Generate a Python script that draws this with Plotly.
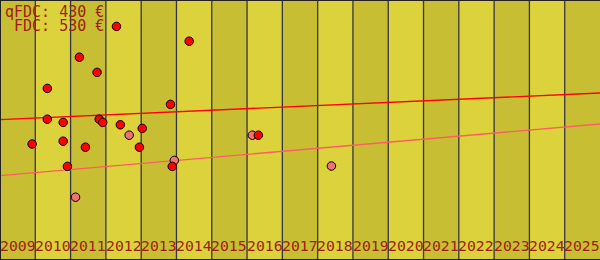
import plotly.graph_objects as go

# ---- data ----
years = list(range(2009, 2026))
red_dates = [2010.34, 2009.91, 2010.34, 2010.79, 2010.79, 2010.91, 2011.42, 2011.81,
             2011.91, 2012.41, 2013.03, 2012.95, 2013.83, 2013.88, 2012.30, 2014.36,
             2011.25, 2011.75, 2016.32]
red_prices = [629, 490, 552, 544, 497, 434, 482, 552,
              544, 538, 529, 482, 589, 434, 784, 747,
              707, 669, 512]
pink_dates = [2011.14, 2012.66, 2013.94, 2016.15, 2018.39]
pink_prices = [357, 512, 449, 512, 435]
red_trend_x = [2009, 2026]
red_trend_y = [551, 617.5]
pink_trend_x = [2009, 2026]
pink_trend_y = [411, 540]
label_lines = ["qFDC: 430 €", "FDC: 530 €"]

# ---- styling ----
LIGHT = "#dcd23c"
DARK = "#c8be33"
TXT = "#a01e0e"
GRID = "#35354a"
FONT = "DejaVu Sans Mono"

fig = go.Figure()

fig.add_trace(go.Scatter(x=red_trend_x, y=red_trend_y, mode="lines",
                         line=dict(color="#ff0000", width=1.4), hoverinfo="skip"))
fig.add_trace(go.Scatter(x=pink_trend_x, y=pink_trend_y, mode="lines",
                         line=dict(color="#ff5e5e", width=1.4), hoverinfo="skip"))
fig.add_trace(go.Scatter(x=pink_dates, y=pink_prices, mode="markers",
                         marker=dict(color="#f07272", size=8.5,
                                     line=dict(color="#000000", width=1))))
fig.add_trace(go.Scatter(x=red_dates, y=red_prices, mode="markers",
                         marker=dict(color="#ff0000", size=8.5,
                                     line=dict(color="#000000", width=1))))

shapes = []
for i, yr in enumerate(years):
    shapes.append(dict(type="rect", xref="x", yref="paper", x0=yr, x1=yr + 1,
                       y0=0, y1=1, fillcolor=DARK if i % 2 == 0 else LIGHT,
                       line=dict(width=0), layer="below"))
for yr in years[1:]:
    shapes.append(dict(type="line", xref="x", yref="paper", x0=yr, x1=yr,
                       y0=0, y1=1, line=dict(color=GRID, width=1.3), layer="below"))
# frame on top, left, bottom
for x0, x1, y0, y1 in [(0, 1, 1, 1), (0, 0, 0, 1), (0, 1, 0, 0)]:
    shapes.append(dict(type="line", xref="paper", yref="paper", x0=x0, x1=x1,
                       y0=y0, y1=y1, line=dict(color="#222222", width=2)))

annotations = []
for yr in years:
    annotations.append(dict(x=yr + 0.5, y=(260 - 245) / 260, xref="x", yref="paper",
                            text=str(yr), showarrow=False,
                            font=dict(family=FONT, size=14.8, color=TXT),
                            xanchor="center", yanchor="middle"))

for line, ypx in zip(label_lines, [12, 26]):
    annotations.append(dict(x=106 / 600, y=1 - ypx / 260, xref="paper", yref="paper",
                            text=line, showarrow=False, xanchor="right",
                            yanchor="middle",
                            font=dict(family=FONT, size=15, color=TXT)))

fig.update_layout(
    width=600, height=260,
    margin=dict(l=0, r=0, t=0, b=0),
    paper_bgcolor=LIGHT, plot_bgcolor=LIGHT,
    showlegend=False,
    xaxis=dict(range=[2009, 2026], visible=False, fixedrange=True),
    yaxis=dict(range=[200, 850], visible=False, fixedrange=True),
    shapes=shapes, annotations=annotations,
)

fig.write_html("out.html", config={"displayModeBar": False})
